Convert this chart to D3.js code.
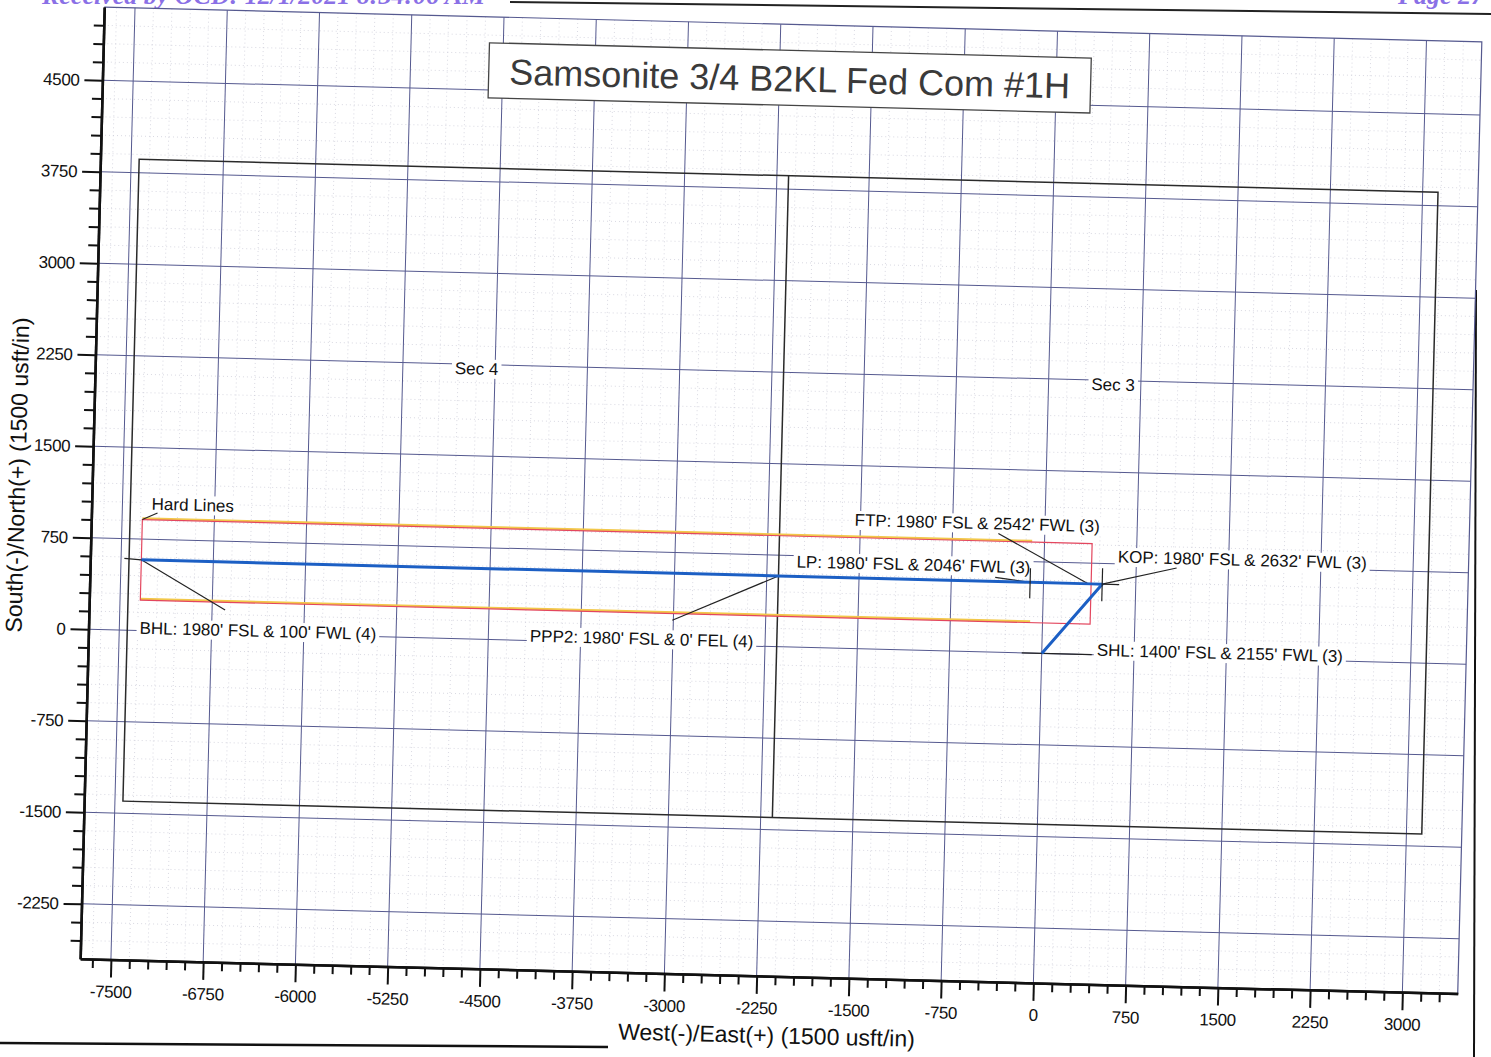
<!DOCTYPE html>
<html>
<head>
<meta charset="utf-8">
<script src="https://cdnjs.cloudflare.com/ajax/libs/d3/7.8.5/d3.min.js"></script>
<style>
  body { margin: 0; background: #fff; }
  svg { display: block; font-family: "Liberation Sans", Arial, sans-serif; }
</style>
</head>
<body>
<script>
// well stations, usft relative to SHL (E+, N+)
var stationNames = ["SHL", "KOP", "FTP", "LP", "PPP2", "BHL"];
var stationEast = [0, 477, 387, -109, -2155, -7335];
var stationNorth = [0, 580, 580, 580, 580, 580];
var stationLabels = [
  "SHL: 1400' FSL & 2155' FWL (3)",
  "KOP: 1980' FSL & 2632' FWL (3)",
  "FTP: 1980' FSL & 2542' FWL (3)",
  "LP: 1980' FSL & 2046' FWL (3)",
  "PPP2: 1980' FSL & 0' FEL (4)",
  "BHL: 1980' FSL & 100' FWL (4)"
];

// section lines
var sectionNames = ["Sec 4", "Sec 3"];
var sectionEastLines = [-7435, -2155, 3125];
var sectionNorthLines = [-1400, 3860];
var sectionLabelEast = [-4650, 525];
var sectionLabelNorth = [2250, 2250];

// hard lines
var hardLineEast = [-7335, 387];
var hardLineNorth = [250, 910];

// axes
var xDomain = [-7750, 3450];
var yDomain = [-2700, 5100];
var xTickValues = [-7500, -6750, -6000, -5250, -4500, -3750, -3000, -2250, -1500, -750, 0, 750, 1500, 2250, 3000];
var yTickValues = [-2250, -1500, -750, 0, 750, 1500, 2250, 3000, 3750, 4500];
var minorStep = 150;

var chartTitle = "Samsonite 3/4 B2KL Fed Com #1H";
var xTitle = "West(-)/East(+) (1500 usft/in)";
var yTitle = "South(-)/North(+) (1500 usft/in)";

var svgWidth = 1491, svgHeight = 1057;
var plot = {left: 92, right: 1470, top: 24, bottom: 976};

var svg = d3.select("body").append("svg")
    .attr("width", svgWidth)
    .attr("height", svgHeight);

// scanned page bits
svg.append("text")
    .attr("x", 42).attr("y", 4)
    .attr("font-family", "Liberation Serif, serif")
    .attr("font-style", "italic").attr("font-weight", "bold")
    .attr("font-size", 26).attr("fill", "#8a70e6")
    .text("Received by OCD: 12/1/2021 8:34:06 AM");
svg.append("text")
    .attr("x", 1398).attr("y", 4)
    .attr("font-family", "Liberation Serif, serif")
    .attr("font-style", "italic").attr("font-weight", "bold")
    .attr("font-size", 26).attr("fill", "#8a70e6")
    .text("Page 27");
svg.append("line").attr("x1", 510).attr("y1", 2).attr("x2", 1491).attr("y2", 14)
    .attr("stroke", "#222").attr("stroke-width", 2);
svg.append("line").attr("x1", 1476).attr("y1", 290).attr("x2", 1474).attr("y2", 1057)
    .attr("stroke", "#111").attr("stroke-width", 2);
svg.append("line").attr("x1", 0).attr("y1", 1043).attr("x2", 608).attr("y2", 1047)
    .attr("stroke", "#111").attr("stroke-width", 2.5);

// the whole plot is scanned slightly tilted
var chart = svg.append("g").attr("transform", "rotate(1.45,768,500)");

var xScale = d3.scaleLinear().domain(xDomain).range([plot.left, plot.right]);
var yScale = d3.scaleLinear().domain(yDomain).range([plot.bottom, plot.top]);

var xMinor = d3.range(Math.ceil(xDomain[0] / minorStep) * minorStep, xDomain[1], minorStep)
    .filter(function(v){ return v > xDomain[0] && xTickValues.indexOf(v) < 0; });
var yMinor = d3.range(Math.ceil(yDomain[0] / minorStep) * minorStep, yDomain[1], minorStep)
    .filter(function(v){ return v > yDomain[0] && yTickValues.indexOf(v) < 0; });

// minor grid (faint dotted)
var grid = chart.append("g");
grid.selectAll(".vminor").data(xMinor).enter().append("line")
    .attr("x1", xScale).attr("x2", xScale)
    .attr("y1", plot.top).attr("y2", plot.bottom)
    .attr("stroke", "#c9c9d6").attr("stroke-width", 0.7).attr("stroke-dasharray", "1,3");
grid.selectAll(".hminor").data(yMinor).enter().append("line")
    .attr("y1", yScale).attr("y2", yScale)
    .attr("x1", plot.left).attr("x2", plot.right)
    .attr("stroke", "#c9c9d6").attr("stroke-width", 0.7).attr("stroke-dasharray", "1,3");

// major grid
grid.selectAll(".vmajor").data(xTickValues).enter().append("line")
    .attr("x1", xScale).attr("x2", xScale)
    .attr("y1", plot.top).attr("y2", plot.bottom)
    .attr("stroke", "#55598f").attr("stroke-width", 1);
grid.selectAll(".hmajor").data(yTickValues).enter().append("line")
    .attr("y1", yScale).attr("y2", yScale)
    .attr("x1", plot.left).attr("x2", plot.right)
    .attr("stroke", "#55598f").attr("stroke-width", 1);

// top / right frame
grid.append("path")
    .attr("d", "M" + plot.left + "," + plot.top + "H" + plot.right + "V" + plot.bottom)
    .attr("fill", "none").attr("stroke", "#55598f").attr("stroke-width", 1.2);

// section boxes
var secG = chart.append("g");
secG.append("rect")
    .attr("x", xScale(sectionEastLines[0]))
    .attr("y", yScale(sectionNorthLines[1]))
    .attr("width", xScale(sectionEastLines[2]) - xScale(sectionEastLines[0]))
    .attr("height", yScale(sectionNorthLines[0]) - yScale(sectionNorthLines[1]))
    .attr("fill", "none").attr("stroke", "#2a2a2a").attr("stroke-width", 1.5);
secG.append("line")
    .attr("x1", xScale(sectionEastLines[1])).attr("x2", xScale(sectionEastLines[1]))
    .attr("y1", yScale(sectionNorthLines[1])).attr("y2", yScale(sectionNorthLines[0]))
    .attr("stroke", "#2a2a2a").attr("stroke-width", 1.5);

// hard lines
var hx0 = xScale(hardLineEast[0]), hx1 = xScale(hardLineEast[1]);
var hy0 = yScale(hardLineNorth[1]), hy1 = yScale(hardLineNorth[0]);
chart.append("path")
    .attr("d", "M" + hx0 + "," + (hy0 - 1.2) + "H" + (hx1 - 60) + "M" + hx0 + "," + (hy1 - 1.2) + "H" + (hx1 - 60))
    .attr("stroke", "#f2c84a").attr("stroke-width", 2.2).attr("fill", "none");
chart.append("rect")
    .attr("x", hx0).attr("y", hy0)
    .attr("width", hx1 - hx0).attr("height", hy1 - hy0)
    .attr("fill", "none").attr("stroke", "#e3465e").attr("stroke-width", 1.2);

// well path
var stations = stationNames.map(function(n, i){
  return {name: n, e: stationEast[i], n: stationNorth[i], label: stationLabels[i]};
});
var line = d3.line().x(function(d){ return xScale(d.e); }).y(function(d){ return yScale(d.n); });

// label placement (px offsets from station)
var layout = {
  SHL:  {dx: 55,   dy: -5,  lead: [[-20, 0], [50, 0]]},
  KOP:  {dx: 15,   dy: -28, lead: [[0, 0], [74, -18]]},
  FTP:  {dx: -238, dy: -58, lead: [[-94, -48], [-3, 0]]},
  LP:   {dx: -234, dy: -15, lead: [[-35, -4], [0, 0]]},
  PPP2: {dx: -247, dy: 66,  lead: [[0, 0], [-105, 47]]},
  BHL:  {dx: 0,    dy: 68,  lead: [[0, 0], [85, 48]]}
};

var lab = chart.append("g").attr("font-size", 17).attr("fill", "#111");

function addLabel(g, x, y, txt, anchor) {
  var bg = g.append("rect").attr("fill", "#fff");
  var t = g.append("text").attr("x", x).attr("y", y + 6)
      .attr("text-anchor", anchor || "start").text(txt);
  var b = t.node().getBBox();
  bg.attr("x", b.x - 3).attr("y", b.y).attr("width", b.width + 6).attr("height", b.height);
}

// section labels
sectionNames.forEach(function(s, i){
  addLabel(lab, xScale(sectionLabelEast[i]), yScale(sectionLabelNorth[i]) + 4, s, "middle");
});

// leaders
var leadG = chart.append("g").attr("stroke", "#222").attr("stroke-width", 1.2);
stations.forEach(function(d){
  var L = layout[d.name], px = xScale(d.e), py = yScale(d.n);
  leadG.append("line")
      .attr("x1", px + L.lead[0][0]).attr("y1", py + L.lead[0][1])
      .attr("x2", px + L.lead[1][0]).attr("y2", py + L.lead[1][1]);
});
// hard lines leader
leadG.append("line").attr("x1", hx0).attr("y1", hy0).attr("x2", hx0 + 15).attr("y2", hy0 - 7);

chart.append("path")
    .datum(stations)
    .attr("d", line)
    .attr("fill", "none").attr("stroke", "#1c5fc4").attr("stroke-width", 3)
    .attr("stroke-linejoin", "round");

// station markers
var mk = chart.append("g").attr("stroke", "#222").attr("stroke-width", 1.2);
stations.forEach(function(d){
  var px = xScale(d.e), py = yScale(d.n);
  if (d.name === "KOP") {
    mk.append("line").attr("x1", px).attr("x2", px).attr("y1", py - 16).attr("y2", py + 17);
    mk.append("line").attr("x1", px).attr("x2", px + 17).attr("y1", py).attr("y2", py);
  } else if (d.name === "LP") {
    mk.append("line").attr("x1", px).attr("x2", px).attr("y1", py - 14).attr("y2", py + 16);
  } else if (d.name === "BHL") {
    mk.append("line").attr("x1", px - 17).attr("x2", px).attr("y1", py - 1).attr("y2", py);
  }
});

// station labels
stations.forEach(function(d){
  var L = layout[d.name];
  addLabel(lab, xScale(d.e) + L.dx, yScale(d.n) + L.dy, d.label);
});
addLabel(lab, hx0 + 9, hy0 - 16, "Hard Lines");

// axes
function styleAxis(g) {
  g.select(".domain").attr("stroke", "#111").attr("stroke-width", 2.5);
  g.selectAll(".tick line").attr("stroke", "#111").attr("stroke-width", 2);
  g.selectAll(".tick text").attr("fill", "#111")
      .attr("font-family", "Liberation Sans, Arial, sans-serif")
      .attr("font-size", 17).attr("letter-spacing", "-0.4");
}

var xMinorAxis = d3.axisBottom(xScale).tickValues(xMinor).tickSize(9).tickFormat("").tickSizeOuter(0);
var xAxis = d3.axisBottom(xScale).tickValues(xTickValues).tickSize(18).tickPadding(8)
    .tickFormat(function(d){ return String(d); }).tickSizeOuter(0);
chart.append("g").attr("transform", "translate(0," + plot.bottom + ")").call(xMinorAxis).call(styleAxis);
chart.append("g").attr("transform", "translate(0," + plot.bottom + ")").call(xAxis).call(styleAxis);

var yMinorAxis = d3.axisLeft(yScale).tickValues(yMinor).tickSize(10).tickFormat("").tickSizeOuter(0);
var yAxis = d3.axisLeft(yScale).tickValues(yTickValues).tickSize(18).tickPadding(5)
    .tickFormat(function(d){ return String(d); }).tickSizeOuter(0);
chart.append("g").attr("transform", "translate(" + plot.left + ",0)").call(yMinorAxis).call(styleAxis);
chart.append("g").attr("transform", "translate(" + plot.left + ",0)").call(yAxis).call(styleAxis);

// axis titles
chart.append("text")
    .attr("x", 780).attr("y", 1043)
    .attr("text-anchor", "middle").attr("font-size", 23).attr("fill", "#111")
    .text(xTitle);
chart.append("text")
    .attr("transform", "translate(25,494) rotate(-90)")
    .attr("text-anchor", "middle").attr("font-size", 23).attr("fill", "#111")
    .text(yTitle);

// title box
chart.append("rect")
    .attr("x", 478).attr("y", 50).attr("width", 602).attr("height", 55)
    .attr("fill", "#fff").attr("stroke", "#444").attr("stroke-width", 1.3);
chart.append("text")
    .attr("x", 779).attr("y", 91)
    .attr("text-anchor", "middle").attr("font-size", 36).attr("fill", "#3a3a3a")
    .text(chartTitle);
</script>
</body>
</html>
